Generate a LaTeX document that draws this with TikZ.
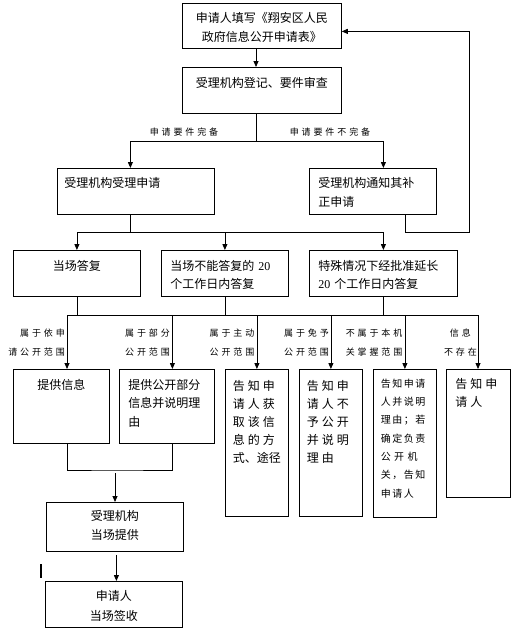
\documentclass[tikz,border=0pt]{standalone}
\usepackage{fontspec}
\setmainfont{Noto Sans CJK SC}
\newfontfamily\lsfont[LetterSpace=25]{Noto Sans CJK SC}
\newfontfamily\smlfont[LetterSpace=15]{Noto Sans CJK SC}
\newfontfamily\lblfont[LetterSpace=32]{Noto Sans CJK SC}
\newfontfamily\numfont{Liberation Serif}
\usetikzlibrary{arrows.meta}

\begin{document}
\begin{tikzpicture}[x=1pt,y=-1pt,
  box/.style={draw,line width=0.8pt,anchor=north west,inner ysep=0pt,
              font=\fontsize{12}{19}\selectfont},
  tallbox/.style={box,inner xsep=7.5pt,text width=48pt,align=left,
                  text height=20.6pt,text depth=126.4pt,
                  font=\lsfont\fontsize{12}{18}\selectfont},
  lbl/.style={inner sep=0pt,align=right,
              font=\lblfont\fontsize{9}{19}\selectfont},
  ln/.style={line width=0.8pt},
  arr/.style={-{Triangle[length=6pt,width=5pt]},line width=0.8pt}]
\useasboundingbox (0,0) rectangle (514,637);
% top part
\node[box,inner xsep=4pt,text width=151pt,align=center,text height=19.6pt,text depth=25.4pt]
  (b1) at (182,3) {申请人填写《翔安区人民\\政府信息公开申请表》};
\node[box,inner xsep=4pt,text width=151pt,align=center,text height=19.6pt,text depth=26.4pt]
  (b2) at (182,67) {受理机构登记、要件审查};
\node[box,inner xsep=7pt,text width=143pt,align=left,text height=18.6pt,text depth=27.4pt]
  (b3) at (57,168) {受理机构受理申请};
\node[box,inner xsep=9pt,text width=109pt,align=left,text height=18.6pt,text depth=27.4pt]
  (b4) at (309,168) {受理机构通知其补\\正申请};
\node[lbl,align=center] (e1) at (184,132) {申请要件完备};
\node[lbl,align=center] (e2) at (330,132) {申请要件不完备};
% three answers
\node[box,inner xsep=4pt,text width=119pt,align=center,text height=19.6pt,text depth=26.4pt]
  (b5) at (13,250) {当场答复};
\node[box,inner xsep=9pt,text width=109pt,align=left,text height=19.6pt,text depth=26.4pt,
      font=\fontsize{12}{18}\selectfont]
  (b6) at (161,250) {当场不能答复的 {\numfont 20}\\个工作日内答复};
\node[box,inner xsep=9pt,text width=130pt,align=left,text height=19.6pt,text depth=26.4pt,
      font=\fontsize{12}{18}\selectfont]
  (b7) at (309,250) {特殊情况下经批准延长\\{\numfont 20} 个工作日内答复};
% results
\node[box,inner xsep=4pt,text width=88pt,align=center,text height=19.6pt,text depth=54.4pt]
  (c1) at (13,369) {提供信息};
\node[box,inner xsep=9pt,text width=77pt,align=left,text height=19.6pt,text depth=54.4pt,
      font=\fontsize{12}{18.5}\selectfont]
  (c2) at (119,369) {提供公开部分\\信息并说明理\\由};
\node[tallbox] (c3) at (225,369) {告知申\\请人获\\取该信\\息的方\\{\normalfont 式、途径}};
\node[tallbox] (c4) at (299,369) {告知申\\请人不\\予公开\\并说明\\理由};
\node[tallbox,text height=17.8pt,text depth=130.2pt,
      font=\smlfont\fontsize{10}{18.3}\selectfont]
  (c5) at (373,369) {告知申请\\人并说明\\理由；若\\确定负责\\\makebox[44pt][s]{公 开 机}\\关，告知\\申请人};
\node[tallbox,inner xsep=9pt,text width=46pt,text height=18.6pt,text depth=109.4pt]
  (c6) at (446,369) {告知申\\请人};
\node[lbl] (l1) at (65,342.5) [anchor=east] {属于依申\\请公开范围};
\node[lbl] (l2) at (170,342.5) [anchor=east] {属于部分\\公开范围};
\node[lbl] (l3) at (254.5,342.5) [anchor=east] {属于主动\\公开范围};
\node[lbl] (l4) at (329,342.5) [anchor=east] {属于免予\\公开范围};
\node[lbl] (l5) at (402.5,342.5) [anchor=east] {不属于本机\\关掌握范围};
\node[lbl,align=center] (l6) at (477,342.5) [anchor=east] {信息\\不存在};
% bottom
\node[box,inner xsep=4pt,text width=129pt,align=center,text height=17.6pt,text depth=31.4pt]
  (d1) at (46,502) {受理机构\\当场提供};
\node[box,inner xsep=4pt,text width=129pt,align=center,text height=18.6pt,text depth=27.4pt,
      font=\fontsize{12}{20}\selectfont]
  (d2) at (45,581) {申请人\\当场签收};
% connectors
\coordinate (s1) at (256,141);
\coordinate (r1) at (469,232);
\coordinate (s2) at (130,232);
\coordinate (t1) at (67,315);
\coordinate (t6) at (478,315);
\coordinate (j3) at (115,470);
\draw[arr] (b1.south -| s1) -- (b2.north -| s1);
\draw[ln] (b2.south -| s1) -- (s1);
\draw[arr] (s1) -| ([xshift=-5.5pt]b3.north);
\draw[arr] (s1) -| ([xshift=10.5pt]b4.north);
\draw[arr] ([xshift=32.5pt]b4.south) |- (r1) |- ([yshift=-5.5pt]b1.east);
\draw[ln] (b3.south -| s2) -- (s2);
\draw[arr] (s2) -| (b5.north);
\draw[arr] (s2) -| (b6.north);
\draw[arr] (s2) -| (b7.north);
\draw[ln] (t1) -- (t6);
\draw[ln] (b5.south) -- (b5.south |- t1);
\draw[ln] (b6.south) -- (b6.south |- t1);
\draw[ln] (b7.south) -- (b7.south |- t1);
\draw[arr] (t1) -- (t1 |- c1.north);
\draw[arr] ([xshift=5.5pt]c2.north |- t1) -- ([xshift=5.5pt]c2.north);
\draw[arr] (c3.north |- t1) -- (c3.north);
\draw[arr] (c4.north |- t1) -- (c4.north);
\draw[arr] (c5.north |- t1) -- (c5.north);
\draw[arr] (t6) -- (t6 |- c6.north);
\draw[ln] (t1 |- c1.south) |- (j3) -| ([xshift=5.5pt]c2.south);
\draw[arr] ([yshift=-3pt]j3) -- (j3 |- d1.north);
\draw[arr] ([xshift=1.5pt,yshift=-3pt]d1.south) -- ([xshift=1.5pt]d1.south |- d2.north);
\draw[line width=1.5pt] (41,564) -- (41,578);
\end{tikzpicture}
\end{document}
